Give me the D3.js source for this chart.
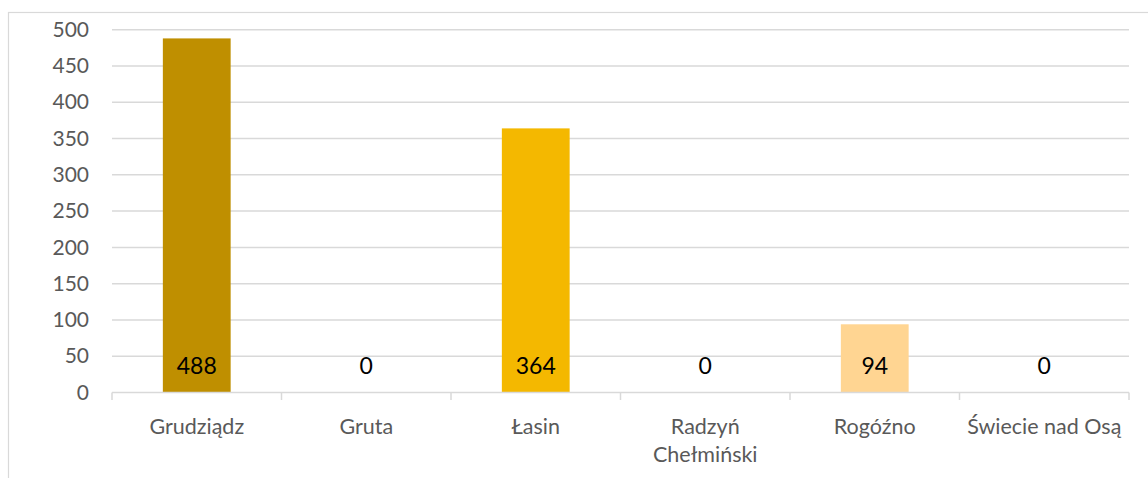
<!DOCTYPE html>
<html>
<head>
<meta charset="utf-8">
<script src="https://cdn.jsdelivr.net/npm/d3@7"></script>
<style>
  body { margin: 0; background: #fff; }
  text { font-family: Lato, "Open Sans", sans-serif; }
</style>
</head>
<body>
<div class="chart"></div>
<script>
// data
const categories = ["Grudziądz", "Gruta", "Łasin", "Radzyń Chełmiński", "Rogóźno", "Świecie nad Osą"];
const values = [488, 0, 364, 0, 94, 0];
const barColors = ["#BF8F00", "#F4B800", "#F4B800", "#F4B800", "#FFD592", "#FFD592"];
const yTicks = [0, 50, 100, 150, 200, 250, 300, 350, 400, 450, 500];

const svgWidth = 1148, svgHeight = 478;
const margin = {top: 29.7, right: 19, bottom: 85.5, left: 112};
const chartWidth = svgWidth - margin.left - margin.right;
const chartHeight = svgHeight - margin.top - margin.bottom;

const svg = d3.select(".chart").append("svg")
  .attr("width", svgWidth)
  .attr("height", svgHeight);

// outer chart border (runs past the picture on right/bottom)
svg.append("rect")
  .attr("x", 8.5).attr("y", 12.5)
  .attr("width", svgWidth + 20).attr("height", svgHeight + 20)
  .attr("fill", "none").attr("stroke", "#d9d9d9").attr("stroke-width", 1.2);

const chart = svg.append("g")
  .attr("transform", `translate(${margin.left},${margin.top})`);

const x = d3.scaleBand().domain(categories).range([0, chartWidth]).paddingInner(0.6).paddingOuter(0.3);
const xOuter = d3.scaleBand().domain(categories).range([0, chartWidth]);
const y = d3.scaleLinear().domain([0, 500]).range([chartHeight, 0]);

// gridlines
chart.append("g")
  .selectAll("line")
  .data(yTicks.filter(d => d > 0))
  .enter().append("line")
  .attr("x1", 0).attr("x2", chartWidth)
  .attr("y1", d => y(d)).attr("y2", d => y(d))
  .attr("stroke", "#d9d9d9").attr("stroke-width", 1.5);

// y axis labels
const leftAxis = d3.axisLeft(y).tickValues(yTicks).tickSize(0).tickPadding(23);
const yAxis = chart.append("g").call(leftAxis);
yAxis.select(".domain").remove();
yAxis.selectAll("text")
  .attr("font-size", 21)
  .attr("fill", "#595959")
  .attr("font-family", "Lato, 'Open Sans', sans-serif");

// bars
chart.selectAll(".bar")
  .data(values)
  .enter().append("rect")
  .attr("class", "bar")
  .attr("x", (d, i) => x(categories[i]))
  .attr("width", x.bandwidth())
  .attr("y", d => y(d))
  .attr("height", d => chartHeight - y(d))
  .attr("fill", (d, i) => barColors[i]);

// x axis line + ticks at category boundaries
chart.append("line")
  .attr("x1", 0).attr("x2", chartWidth)
  .attr("y1", chartHeight).attr("y2", chartHeight)
  .attr("stroke", "#d9d9d9").attr("stroke-width", 1.5);
const bounds = categories.map(c => xOuter(c)).concat([chartWidth]);
chart.append("g").selectAll("line")
  .data(bounds)
  .enter().append("line")
  .attr("x1", d => d).attr("x2", d => d)
  .attr("y1", chartHeight).attr("y2", chartHeight + 7.5)
  .attr("stroke", "#d9d9d9").attr("stroke-width", 1.5);

// data labels, inside base
chart.selectAll(".dlabel")
  .data(values)
  .enter().append("text")
  .attr("class", "dlabel")
  .attr("x", (d, i) => x(categories[i]) + x.bandwidth() / 2)
  .attr("y", chartHeight - 18.5)
  .attr("text-anchor", "middle")
  .attr("font-size", 23)
  .attr("fill", "#000")
  .text(d => d);

// category labels (wrapped)
const wrapLines = {"Radzyń Chełmiński": ["Radzyń", "Chełmiński"]};
categories.forEach(c => {
  const lines = wrapLines[c] || [c];
  const t = chart.append("text")
    .attr("x", xOuter(c) + xOuter.bandwidth() / 2)
    .attr("y", chartHeight + 41.5)
    .attr("text-anchor", "middle")
    .attr("font-size", 21.5)
    .attr("fill", "#595959");
  lines.forEach((l, i) => {
    t.append("tspan")
      .attr("x", xOuter(c) + xOuter.bandwidth() / 2)
      .attr("dy", i === 0 ? 0 : 28)
      .text(l);
  });
});
</script>
</body>
</html>
